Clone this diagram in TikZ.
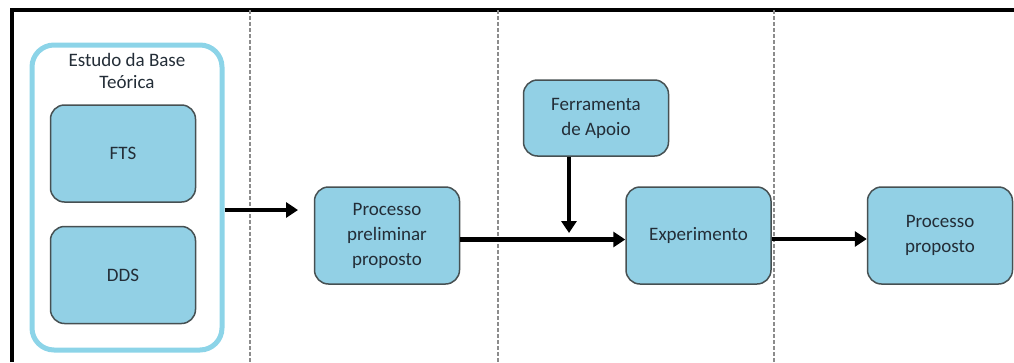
\documentclass[tikz,border=0pt]{standalone}
\usepackage{fontspec}
\setmainfont{Carlito}
\usepackage{tikz}
\usetikzlibrary{arrows.meta, positioning}
\definecolor{boxfill}{RGB}{146,208,229}
\definecolor{boxline}{RGB}{70,80,82}
\definecolor{baseline}{RGB}{140,212,232}
\definecolor{txt}{RGB}{35,45,55}

\begin{document}
\begin{tikzpicture} [
        x = 1pt, y = -1pt,
        step box/.style = {rectangle, rounded corners=14pt, draw=boxline, line width=1.5pt, fill=boxfill,
                          minimum width=145pt, minimum height=97pt, align=center, text=txt,
                          font=\fontsize{19}{25}\selectfont},
        base box/.style = {rectangle, rounded corners=22pt, draw=baseline, line width=5pt,
                          minimum width=190pt, minimum height=305pt},
        flow/.style = {draw, line width=4.5pt, -{Triangle[length=12pt,width=15pt]}},
        lane/.style = {draw=gray!90, line width=1.2pt, dash pattern=on 4pt off 2pt}
    ]

    \useasboundingbox (0,0) rectangle (1014,362);

    % frame and lanes
    \draw[line width=3.5pt] (12,362) -- (12,10) -- (1014,10);
    \foreach \x in {250,498,774}
        \draw[lane] (\x,10) -- (\x,362);

    \node[base box] (base) at (127,197.5) {};
    \node[text=txt, align=center, font=\fontsize{19}{22}\selectfont] (title) at (127,71) {Estudo da Base\\Teórica};
    \node[step box] (fts) at (123,153.5) {FTS};
    \node[step box, below=23pt of fts] (dds) {DDS};

    \node[step box] (pre)  at (387,235.5) {Processo\\preliminar\\proposto};
    \node[step box, minimum height=76pt] (fer) at (596,118) {Ferramenta\\de Apoio};
    \node[step box] (exp)  at (698.5,235.5) {Experimento};
    \node[step box] (prop) at (940,235.5) {Processo\\proposto};

    \coordinate (in)   at (298,210);
    \coordinate (join) at (569,233);

    \path[flow] ([yshift=-12.5pt]base.east) -- (in);
    \path[flow] ([yshift=-4pt]pre.east) -- ([yshift=-4pt]exp.west);
    \path[flow] ([xshift=-27pt]fer.south) -- (join);
    \path[flow] ([yshift=-3.5pt]exp.east) -- ([yshift=-3.5pt]prop.west);

\end{tikzpicture}
\end{document}
